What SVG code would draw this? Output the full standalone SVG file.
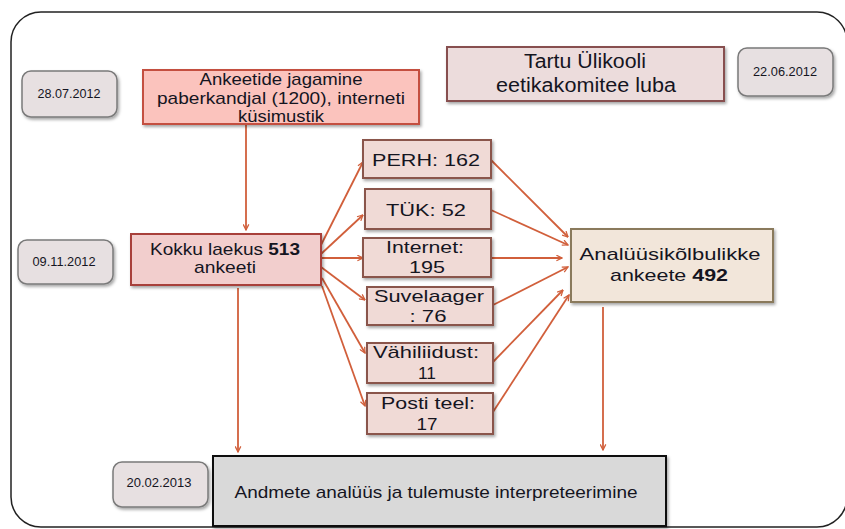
<svg xmlns="http://www.w3.org/2000/svg" width="845" height="529" viewBox="0 0 845 529">
<style>
text{font-family:"Liberation Sans",Arial,sans-serif;fill:#15151f;text-anchor:middle}
.date rect{fill:#e7e0e1;stroke:#7a7a7a;stroke-width:1.5}
.date text{font-size:12px}
.src rect{fill:#f0dad6;stroke:#8a554c;stroke-width:2}
.src text{font-size:17px}
.conn line{stroke:#d15f3b;stroke-width:1.8;fill:none;marker-end:url(#ah)}
</style>
<defs>
<marker id="ah" viewBox="0 0 10 10" refX="9" refY="5" markerWidth="7" markerHeight="7" markerUnits="userSpaceOnUse" orient="auto">
<polyline points="1,1 9,5 1,9" fill="none" stroke="#d15f3b" stroke-width="1.8"/>
</marker>
<filter id="sh" x="-10%" y="-10%" width="130%" height="140%">
<feDropShadow dx="1.5" dy="2" stdDeviation="1.5" flood-color="#000" flood-opacity="0.35"/>
</filter>
</defs>
<rect x="11" y="12" width="836" height="515" rx="30" fill="#fff" stroke="#222" stroke-width="1.5"/>
<g class="conn">
<line x1="246" y1="125" x2="246" y2="230"/>
<line x1="321" y1="245" x2="363" y2="162"/>
<line x1="321" y1="254" x2="363" y2="215"/>
<line x1="321" y1="258" x2="363" y2="258"/>
<line x1="321" y1="267" x2="365" y2="300"/>
<line x1="322" y1="278" x2="365" y2="353"/>
<line x1="322" y1="286" x2="365" y2="406"/>
<line x1="491" y1="160" x2="568" y2="237"/>
<line x1="491" y1="210" x2="568" y2="245"/>
<line x1="491" y1="258" x2="562" y2="258"/>
<line x1="493" y1="305" x2="568" y2="267"/>
<line x1="493" y1="362" x2="563" y2="290"/>
<line x1="493" y1="412" x2="569" y2="295"/>
<line x1="238" y1="288" x2="238" y2="452"/>
<line x1="603" y1="307" x2="603" y2="450"/>
</g>
<g id="d1" class="date"><rect x="22" y="71" width="95" height="46" rx="9" filter="url(#sh)"/><text x="69" y="98" textLength="63" lengthAdjust="spacingAndGlyphs">28.07.2012</text></g>
<g id="d2" class="date"><rect x="738" y="48" width="95" height="48" rx="9" filter="url(#sh)"/><text x="785" y="76" textLength="64" lengthAdjust="spacingAndGlyphs">22.06.2012</text></g>
<g id="d3" class="date"><rect x="18" y="240" width="95" height="44" rx="9" filter="url(#sh)"/><text x="64" y="266" textLength="63" lengthAdjust="spacingAndGlyphs">09.11.2012</text></g>
<g id="d4" class="date"><rect x="113" y="462" width="95" height="45" rx="9" filter="url(#sh)"/><text x="159" y="487" textLength="65" lengthAdjust="spacingAndGlyphs">20.02.2013</text></g>
<g id="jagamine"><rect x="143" y="70" width="276" height="54" fill="#fbc3bd" stroke="#c4503f" stroke-width="2" filter="url(#sh)"/>
<text x="281" y="85" font-size="17" textLength="163" lengthAdjust="spacingAndGlyphs">Ankeetide jagamine</text>
<text x="281" y="104" font-size="17" textLength="248" lengthAdjust="spacingAndGlyphs">paberkandjal (1200), interneti</text>
<text x="281" y="122" font-size="17" textLength="86" lengthAdjust="spacingAndGlyphs">küsimustik</text></g>
<g id="eetika"><rect x="447" y="47" width="277" height="54" fill="#ecdcdc" stroke="#874f50" stroke-width="2" filter="url(#sh)"/>
<text x="585" y="68" font-size="20" textLength="122" lengthAdjust="spacingAndGlyphs">Tartu Ülikooli</text>
<text x="586" y="92" font-size="20" textLength="180" lengthAdjust="spacingAndGlyphs">eetikakomitee luba</text></g>
<g id="kokku"><rect x="131" y="234" width="190" height="51" fill="#f2cecd" stroke="#a8413a" stroke-width="2" filter="url(#sh)"/>
<text x="225" y="255" font-size="17" textLength="150" lengthAdjust="spacingAndGlyphs">Kokku  laekus <tspan font-weight="bold">513</tspan></text>
<text x="225" y="273" font-size="17" textLength="62" lengthAdjust="spacingAndGlyphs">ankeeti</text></g>
<g id="perh" class="src"><rect x="363" y="140" width="128" height="38" filter="url(#sh)"/><text x="426" y="166" textLength="108" lengthAdjust="spacingAndGlyphs">PERH: 162</text></g>
<g id="tyk" class="src"><rect x="365" y="189" width="126" height="40" filter="url(#sh)"/><text x="426" y="216" textLength="80" lengthAdjust="spacingAndGlyphs">TÜK: 52</text></g>
<g id="internet" class="src"><rect x="363" y="238" width="128" height="39" filter="url(#sh)"/><text x="425" y="253" textLength="78" lengthAdjust="spacingAndGlyphs">Internet:</text><text x="427" y="273" textLength="36" lengthAdjust="spacingAndGlyphs">195</text></g>
<g id="suvelaager" class="src"><rect x="367" y="287" width="126" height="38" filter="url(#sh)"/><text x="429" y="302" textLength="110" lengthAdjust="spacingAndGlyphs">Suvelaager</text><text x="428" y="322" textLength="37" lengthAdjust="spacingAndGlyphs">: 76</text></g>
<g id="vahiliit" class="src"><rect x="367" y="343" width="126" height="40" filter="url(#sh)"/><text x="426" y="358" textLength="106" lengthAdjust="spacingAndGlyphs">Vähiliidust:</text><text x="427" y="379" font-size="19" textLength="18" lengthAdjust="spacingAndGlyphs">11</text></g>
<g id="posti" class="src"><rect x="367" y="393" width="126" height="41" filter="url(#sh)"/><text x="428" y="409" textLength="94" lengthAdjust="spacingAndGlyphs">Posti teel:</text><text x="427" y="430" font-size="19" textLength="21" lengthAdjust="spacingAndGlyphs">17</text></g>
<g id="analyys"><rect x="571" y="229" width="202" height="73" fill="#f2e6da" stroke="#8a7a5c" stroke-width="2" filter="url(#sh)"/>
<text x="670" y="260" font-size="17" textLength="181" lengthAdjust="spacingAndGlyphs">Analüüsikõlbulikke</text>
<text x="669" y="281" font-size="17" textLength="118" lengthAdjust="spacingAndGlyphs">ankeete <tspan font-weight="bold">492</tspan></text></g>
<g id="andmete"><rect x="213" y="456" width="453" height="70" fill="#d9d9d9" stroke="#111" stroke-width="2" filter="url(#sh)"/>
<text x="436" y="498" font-size="17" textLength="403" lengthAdjust="spacingAndGlyphs">Andmete analüüs ja tulemuste interpreteerimine</text></g>
</svg>
